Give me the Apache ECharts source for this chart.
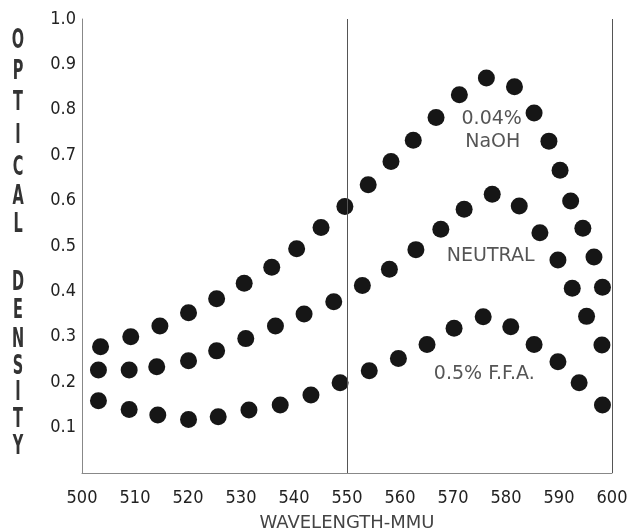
<!DOCTYPE html>
<html>
<head>
<meta charset="utf-8">
<script src="https://cdn.jsdelivr.net/npm/echarts@6/dist/echarts.min.js"></script>
<style>
html,body{margin:0;padding:0;background:#fff;}
#chart{width:630px;height:531px;}
</style>
</head>
<body>
<div id="chart"></div>
<script>
// Data (wavelength in mμ, optical density)
const naohWavelength = [503.5,509.2,514.7,520.1,525.4,530.6,535.8,540.5,545.1,549.6,554.0,558.3,562.5,566.8,571.2,576.3,581.6,585.3,588.1,590.2,592.2,594.5,596.6,598.2];
const naohDensity    = [0.278,0.300,0.324,0.353,0.384,0.418,0.453,0.494,0.541,0.587,0.635,0.686,0.733,0.783,0.833,0.870,0.851,0.793,0.731,0.667,0.599,0.539,0.476,0.409];

const neutralWavelength = [503.1,508.9,514.1,520.1,525.4,530.9,536.5,541.9,547.5,552.9,558.0,563.0,567.7,572.1,577.4,582.5,586.4,589.8,592.5,595.2,598.1];
const neutralDensity    = [0.227,0.227,0.234,0.247,0.269,0.296,0.324,0.350,0.377,0.413,0.449,0.492,0.537,0.581,0.614,0.588,0.529,0.469,0.407,0.345,0.282];

const ffaWavelength = [503.1,508.9,514.3,520.1,525.7,531.5,537.4,543.2,548.7,554.2,559.7,565.1,570.2,575.7,580.9,585.3,589.8,593.8,598.2];
const ffaDensity    = [0.159,0.140,0.128,0.118,0.124,0.139,0.150,0.172,0.199,0.225,0.252,0.283,0.319,0.344,0.322,0.283,0.245,0.199,0.150];

const xTicks = [500,510,520,530,540,550,560,570,580,590,600];
const yTicks = [0.1,0.2,0.3,0.4,0.5,0.6,0.7,0.8,0.9,1.0];
const referenceLines = [550, 600];

const seriesLabels = [
  {text: '0.04%', w: 577.3, v: 0.780},
  {text: 'NaOH', w: 577.5, v: 0.730},
  {text: 'NEUTRAL', w: 577.1, v: 0.478},
  {text: '0.5% F.F.A.', w: 575.9, v: 0.218}
];
const yTitleLetters = ['O','P','T','I','C','A','L','D','E','N','S','I','T','Y'];
const yTitleLetterY = [41,72,103,136,168,197,225,283,311,340,367,393,420,447];
const xTitle = 'WAVELENGTH-MMU';

function pairs(xs, ys){ return xs.map((x,i)=>[x, ys[i]]); }

const chart = echarts.init(document.getElementById('chart'), null, {renderer:'canvas'});
const dotColor = '#161616';
const labelFont = '"DejaVu Sans Condensed", "DejaVu Sans", sans-serif';
const annotFont = '"DejaVu Sans", sans-serif';

const option = {
  backgroundColor: '#fff',
  animation: false,
  grid: {left: 82, right: 18, top: 19, bottom: 58, containLabel: false, outerBoundsMode: 'none'},
  xAxis: {
    type: 'value', min: 500, max: 600, interval: 10,
    name: xTitle, nameLocation: 'middle', nameGap: 41,
    nameTextStyle: {fontFamily: annotFont, fontSize: 18, color: '#444'},
    axisLine: {show: true, onZero: false, lineStyle: {color: '#888', width: 1}},
    axisTick: {show: false},
    splitLine: {show: false},
    axisLabel: {fontFamily: labelFont, fontSize: 18, color: '#222', margin: 16,
      formatter: v => xTicks.includes(v) ? String(v) : ''}
  },
  yAxis: {
    type: 'value', min: 0, max: 1.0, interval: 0.1,
    axisLine: {show: true, lineStyle: {color: '#888', width: 1}},
    axisTick: {show: false},
    splitLine: {show: false},
    axisLabel: {fontFamily: labelFont, fontSize: 18, color: '#222', margin: 6,
      formatter: v => {
        const t = yTicks.find(y => Math.abs(y - v) < 1e-6);
        return t === undefined ? '' : t.toFixed(1);
      }}
  },
  graphic: yTitleLetters.map((ch, i) => ({
    type: 'text', x: 18, y: yTitleLetterY[i], scaleX: 0.62,
    style: {
      text: ch,
      font: 'bold 26px "DejaVu Sans Condensed", sans-serif',
      fill: '#333', align: 'center', verticalAlign: 'middle'
    }
  })),
  series: [
    {
      name: 'NaOH', type: 'scatter', symbol: 'circle', symbolSize: 17,
      itemStyle: {color: dotColor, opacity: 1}, data: pairs(naohWavelength, naohDensity),
      markLine: {
        silent: true, symbol: ['none','none'], label: {show: false},
        lineStyle: {color: '#555', width: 1, type: 'solid'},
        data: referenceLines.map(x => ({xAxis: x}))
      }
    },
    {
      name: 'Neutral', type: 'scatter', symbol: 'circle', symbolSize: 17,
      itemStyle: {color: dotColor, opacity: 1}, data: pairs(neutralWavelength, neutralDensity)
    },
    {
      name: 'FFA', type: 'scatter', symbol: 'circle', symbolSize: 17,
      itemStyle: {color: dotColor, opacity: 1}, data: pairs(ffaWavelength, ffaDensity)
    },
    {
      name: 'labels', type: 'scatter', symbolSize: 0, silent: true,
      data: seriesLabels.map(l => ({value: [l.w, l.v], name: l.text})),
      label: {show: true, position: 'inside', formatter: p => p.name,
        fontFamily: annotFont, fontSize: 19, color: '#2a2a2a'}
    }
  ]
};
chart.setOption(option);
</script>
</body>
</html>
